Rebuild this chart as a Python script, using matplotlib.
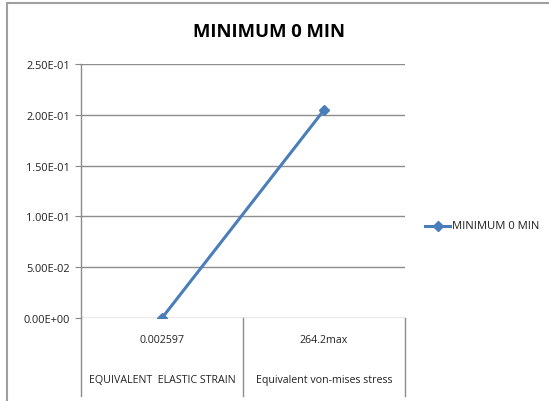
import matplotlib
matplotlib.use("Agg")
import matplotlib.pyplot as plt
from matplotlib.lines import Line2D
from matplotlib.patches import Rectangle

categories_top = ["0.002597", "264.2max"]
categories_bottom = ["EQUIVALENT  ELASTIC STRAIN", "Equivalent von-mises stress"]
values = [0.0, 0.2047]
series_name = "MINIMUM 0 MIN"
yticks = [0.0, 0.05, 0.10, 0.15, 0.20, 0.25]
ytick_labels = ["0.00E+00", "5.00E-02", "1.00E-01", "1.50E-01", "2.00E-01", "2.50E-01"]

W, H = 549, 402
fig = plt.figure(figsize=(W / 100, H / 100), dpi=100)
plt.rcParams['font.family'] = ['Open Sans', 'DejaVu Sans']

# outer chart border
fig.patches.append(Rectangle((7 / W, -0.01), 1.0, (H - 4) / H + 0.01, transform=fig.transFigure,
                             fill=False, edgecolor="#a0a0a0", linewidth=1.5))

left, right, top, bottom = 81, 405, 65, 319
ax = fig.add_axes([left / W, (H - bottom) / H, (right - left) / W, (bottom - top) / H])
ax.set_xlim(0, len(values))
ax.set_ylim(0, 0.25)
xs = [i + 0.5 for i in range(len(values))]
color = "#4a7ebb"
ax.plot(xs, values, color=color, linewidth=2.2, marker="D", markersize=5.5)

ax.set_yticks(yticks)
ax.set_yticklabels(ytick_labels, fontsize=7.9, color="#222222")
ax.tick_params(axis="y", length=4, color="#888888", pad=4)
ax.set_xticks([])
ax.yaxis.grid(True, color="#8c8c8c", linewidth=1)
ax.set_axisbelow(True)
for s in ["top", "right", "bottom"]:
    ax.spines[s].set_visible(False)
ax.spines["left"].set_color("#8c8c8c")
ax.spines["left"].set_linewidth(1)

# category separators and labels
ext = (397 - 319) / (bottom - top)
for i in range(len(values) + 1):
    ax.add_line(Line2D([i, i], [0, -ext * 0.25], color="#8c8c8c", linewidth=1,
                       clip_on=False, transform=ax.transData))
for i, (t, b) in enumerate(zip(categories_top, categories_bottom)):
    ax.text(i + 0.5, -(341 - 319) / (bottom - top) * 0.25, t, ha="center", va="center",
            fontsize=7.7, color="#222222")
    ax.text(i + 0.5, -(381 - 319) / (bottom - top) * 0.25, b, ha="center", va="center",
            fontsize=7.7, color="#222222")

fig.text(269 / W, 1 - 32 / H, "MINIMUM 0 MIN", ha="center", va="center",
         fontsize=13.3, fontweight="bold", color="#000000")

# legend
ly = 1 - 227 / H
fig.add_artist(Line2D([425 / W, 450 / W], [ly, ly], color=color, linewidth=2.2,
                      transform=fig.transFigure))
fig.add_artist(Line2D([437.5 / W], [ly], color=color, marker="D", markersize=5,
                      transform=fig.transFigure))
fig.text(452 / W, ly, series_name, ha="left", va="center", fontsize=8.1, color="#222222")

fig.savefig("out.png", dpi=100)
